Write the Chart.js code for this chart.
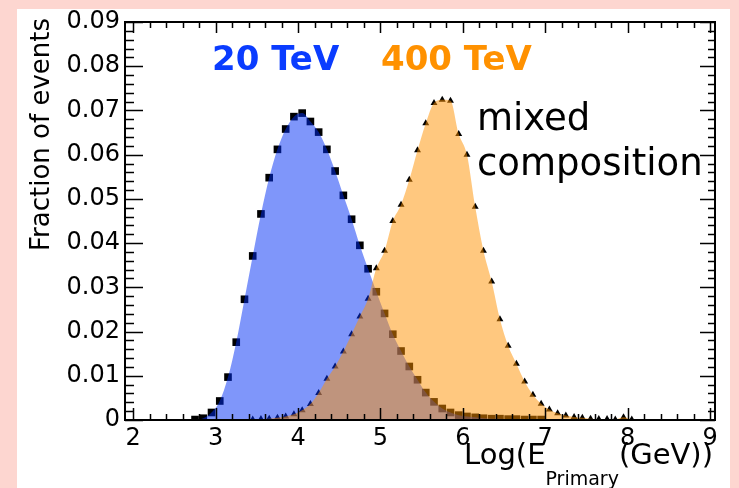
<!DOCTYPE html>
<html>
<head>
<meta charset="utf-8">
<script src="https://cdn.jsdelivr.net/npm/chart.js@4.4.1/dist/chart.umd.min.js"></script>
<style>
  html, body { margin: 0; padding: 0; background: #fdd6d0; }
  canvas { display: block; }
</style>
</head>
<body>
<canvas id="energy-chart" width="739" height="488"></canvas>
<script>
// 20 TeV sample: bin centres in Log(E) and fraction of events
const blueBins = [2.75,2.85,2.95,3.05,3.15,3.25,3.35,3.45,3.55,3.65,3.75,3.85,3.95,4.05,4.15,4.25,4.35,4.45,4.55,4.65,4.75,4.85,4.95,5.05,5.15,5.25,5.35,5.45,5.55,5.65,5.75,5.85,5.95,6.05,6.15,6.25,6.35,6.45,6.55,6.65,6.75,6.85,6.95];
const blueFrac = [0.0001,0.0004,0.0017,0.0043,0.0097,0.0176,0.0273,0.0371,0.0466,0.0548,0.0612,0.0658,0.0686,0.0694,0.0675,0.0651,0.0612,0.0563,0.0508,0.0454,0.0395,0.0342,0.0290,0.0241,0.0194,0.0156,0.0121,0.0091,0.0062,0.0041,0.0026,0.0017,0.0011,0.0008,0.0006,0.0004,0.0003,0.0003,0.0002,0.0002,0.0001,0.0001,0.0001];

// 400 TeV sample
const orangeBins = [3.45,3.55,3.65,3.75,3.85,3.95,4.05,4.15,4.25,4.35,4.45,4.55,4.65,4.75,4.85,4.95,5.05,5.15,5.25,5.35,5.45,5.55,5.65,5.75,5.85,5.95,6.05,6.15,6.25,6.35,6.45,6.55,6.65,6.75,6.85,6.95,7.05,7.15,7.25,7.35,7.45,7.55,7.65,7.75,7.85,7.95,8.05];
const orangeFrac = [0.0001,0.0002,0.0003,0.0005,0.0008,0.0013,0.0022,0.0036,0.0061,0.0093,0.0121,0.0155,0.0194,0.0234,0.0274,0.0343,0.0383,0.0450,0.0487,0.0543,0.0610,0.0671,0.0717,0.0724,0.0722,0.0647,0.0600,0.0482,0.0383,0.0313,0.0228,0.0168,0.0127,0.0087,0.0057,0.0037,0.0024,0.0015,0.0010,0.0007,0.0005,0.0003,0.0002,0.0002,0.0001,0.0006,0.0001];

const xTicks = [2,3,4,5,6,7,8,9];
const yTicks = [0,0.01,0.02,0.03,0.04,0.05,0.06,0.07,0.08,0.09];

function points(xs, ys) {
  return xs.map((x, i) => ({ x: x, y: ys[i] }));
}

const FONT = 'DejaVu Sans';

// ROOT-like frame: pink border, inward ticks on all four sides, labels
const framePlugin = {
  id: 'rootFrame',
  beforeDraw(chart) {
    const ctx = chart.ctx;
    ctx.save();
    ctx.fillStyle = '#fdd6d0';
    ctx.fillRect(0, 0, chart.width, chart.height);
    ctx.fillStyle = '#ffffff';
    ctx.fillRect(17, 9, 713, 479);
    ctx.restore();
  },
  afterDraw(chart) {
    const ctx = chart.ctx;
    const a = chart.chartArea;
    const xs = chart.scales.x, ys = chart.scales.y;
    ctx.save();
    ctx.strokeStyle = '#000';
    ctx.lineWidth = 1.5;
    ctx.beginPath();
    // x ticks, bottom and top
    for (let v = 2; v <= 9.001; v += 0.2) {
      const px = Math.round(xs.getPixelForValue(v)) + 0.5;
      const major = Math.abs(v - Math.round(v)) < 1e-6;
      const len = major ? 12 : 6;
      ctx.moveTo(px, a.bottom); ctx.lineTo(px, a.bottom - len);
      ctx.moveTo(px, a.top); ctx.lineTo(px, a.top + (major ? 11 : 6));
    }
    // y ticks, left and right
    for (let i = 0; i <= 45; i++) {
      const v = i * 0.002;
      const py = Math.round(ys.getPixelForValue(v)) + 0.5;
      const major = i % 5 === 0;
      ctx.moveTo(a.left, py); ctx.lineTo(a.left + (major ? 18 : 9), py);
      ctx.moveTo(a.right, py); ctx.lineTo(a.right - (major ? 15 : 7), py);
    }
    ctx.stroke();
    ctx.lineWidth = 2;
    ctx.strokeRect(a.left, a.top, a.right - a.left, a.bottom - a.top);

    // sample labels
    ctx.textBaseline = 'alphabetic';
    ctx.textAlign = 'left';
    ctx.font = 'bold 34px "' + FONT + '"';
    ctx.fillStyle = '#0a3cff';
    ctx.fillText('20 TeV', 212, 70);
    ctx.fillStyle = '#ff9100';
    ctx.fillText('400 TeV', 381, 70);
    ctx.fillStyle = '#000';
    ctx.font = '37px "' + FONT + '"';
    ctx.fillText('mixed', 477, 130);
    ctx.fillText('composition', 477, 175);

    // y title
    ctx.save();
    ctx.translate(42, 18);
    ctx.rotate(-Math.PI / 2);
    ctx.textAlign = 'right';
    ctx.textBaseline = 'middle';
    ctx.font = '26px "' + FONT + '"';
    ctx.fillText('Fraction of events', 0, 0);
    ctx.restore();

    // x title with subscript
    const big = '29px "' + FONT + '"', small = '19px "' + FONT + '"';
    ctx.font = big;
    const w1 = ctx.measureText('Log(E').width;
    const w3 = ctx.measureText('(GeV))').width;
    ctx.font = small;
    const w2 = ctx.measureText('Primary').width;
    let x0 = 713 - (w1 + w2 + w3);
    ctx.font = big; ctx.fillText('Log(E', x0, 464);
    ctx.font = small; ctx.fillText('Primary', x0 + w1, 485);
    ctx.font = big; ctx.fillText('(GeV))', x0 + w1 + w2, 464);
    ctx.restore();
  }
};

const config = {
  type: 'line',
  data: {
    datasets: [
      {
        label: '20 TeV markers',
        data: points(blueBins, blueFrac),
        showLine: false,
        pointStyle: 'rect',
        pointRadius: 5.4,
        pointBackgroundColor: '#000',
        pointBorderWidth: 0,
        order: 4
      },
      {
        label: '400 TeV markers',
        data: points(orangeBins, orangeFrac),
        showLine: false,
        pointStyle: 'triangle',
        pointRadius: 4,
        pointBackgroundColor: '#000',
        pointBorderWidth: 0,
        order: 3
      },
      {
        label: '20 TeV',
        data: points(blueBins, blueFrac),
        pointRadius: 0,
        borderWidth: 0,
        borderColor: 'rgba(0,0,0,0)',
        backgroundColor: 'rgba(0,45,245,0.5)',
        fill: 'origin',
        cubicInterpolationMode: 'monotone',
        order: 2
      },
      {
        label: '400 TeV',
        data: points(orangeBins, orangeFrac),
        pointRadius: 0,
        borderWidth: 0,
        borderColor: 'rgba(0,0,0,0)',
        backgroundColor: 'rgba(255,145,0,0.5)',
        fill: 'origin',
        cubicInterpolationMode: 'monotone',
        order: 1
      }
    ]
  },
  options: {
    responsive: false,
    animation: false,
    layout: { padding: { top: 22, right: 24, left: 0, bottom: 0 } },
    plugins: { legend: { display: false }, tooltip: { enabled: false } },
    scales: {
      x: {
        type: 'linear',
        min: 1.9,
        max: 9.06,
        afterBuildTicks: s => { s.ticks = xTicks.map(v => ({ value: v })); },
        afterFit: s => { s.height = 68; },
        grid: { display: false, drawTicks: false },
        border: { display: false },
        ticks: { padding: 4, color: '#000', autoSkip: false, maxRotation: 0, font: { family: FONT, size: 24 } }
      },
      y: {
        min: 0,
        max: 0.09,
        afterBuildTicks: s => { s.ticks = yTicks.map(v => ({ value: v })); },
        afterFit: s => { s.width = 125; },
        grid: { display: false, drawTicks: false },
        border: { display: false },
        ticks: {
          padding: 5, color: '#000', font: { family: FONT, size: 24 },
          callback: v => (v === 0 ? '0' : v.toFixed(2))
        }
      }
    }
  },
  plugins: [framePlugin]
};

new Chart(document.getElementById('energy-chart').getContext('2d'), config);
</script>
</body>
</html>
